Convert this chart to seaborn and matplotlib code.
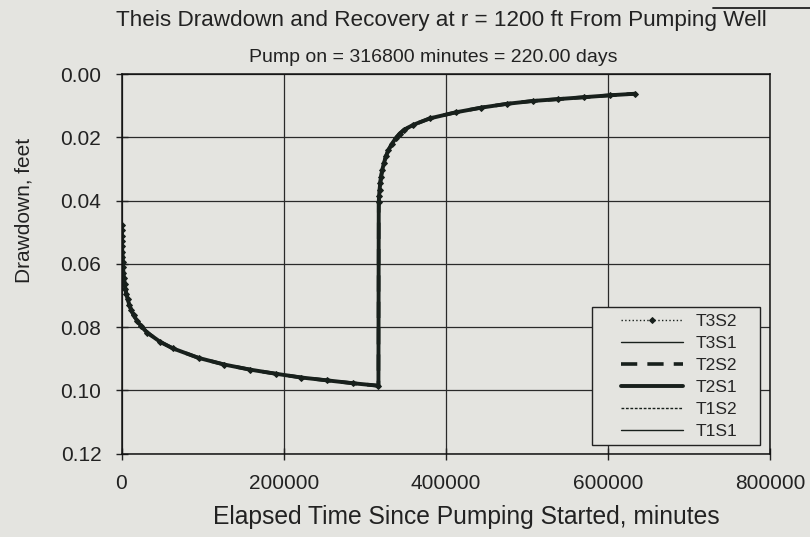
import matplotlib
matplotlib.use("Agg")
import matplotlib.pyplot as plt
import seaborn as sns
import pandas as pd
from matplotlib.lines import Line2D
from matplotlib.patches import Rectangle

# Elapsed time (minutes) and drawdown (feet)
time_min = [300, 380, 480, 600, 760, 960, 1200, 1500, 1900, 2400, 3000, 3800,
            4800, 6000, 7600, 9600, 12000, 15000, 19000, 24000, 31680, 47520,
            63360, 95040, 126720, 158400, 190080, 221760, 253440, 285120, 316800,
            317200, 317600, 318200, 319000, 320000, 321500, 323500, 326000,
            329000, 333000, 338000, 343000, 348480, 360000, 380160, 411840,
            443520, 475200, 506880, 538560, 570240, 601920, 633600]
drawdown_ft = [0.0476, 0.0494, 0.0511, 0.0527, 0.0544, 0.0561, 0.0578, 0.0594,
               0.0611, 0.0628, 0.0644, 0.0662, 0.0679, 0.0695, 0.0712, 0.0729,
               0.0746, 0.0762, 0.0779, 0.0796, 0.0817, 0.0846, 0.0867, 0.0897,
               0.0918, 0.0934, 0.0947, 0.0959, 0.0968, 0.0977, 0.0985,
               0.0405, 0.0385, 0.0365, 0.0345, 0.0325, 0.0303, 0.0282, 0.0260,
               0.0241, 0.0222, 0.0203, 0.0188, 0.0176, 0.0160, 0.0140, 0.0121,
               0.0106, 0.0094, 0.0085, 0.0079, 0.0073, 0.0067, 0.0062]
series_names = ["T3S2", "T3S1", "T2S2", "T2S1", "T1S2", "T1S1"]
x_ticks = [0, 200000, 400000, 600000, 800000]
y_ticks = [0.00, 0.02, 0.04, 0.06, 0.08, 0.10, 0.12]

data = pd.DataFrame({"time": time_min, "drawdown": drawdown_ft})

bg = "#e4e4e0"
ink = "#18201c"

styles = {
    "T3S2": dict(linewidth=1.0, linestyle=":", marker="D", markersize=3),
    "T3S1": dict(linewidth=1.0, linestyle="-"),
    "T2S2": dict(linewidth=2.6, dashes=(4.5, 2.8)),
    "T2S1": dict(linewidth=2.8, linestyle="-"),
    "T1S2": dict(linewidth=1.0, linestyle="--", dashes=(2, 1.2)),
    "T1S1": dict(linewidth=1.0, linestyle="-"),
}

sns.set_style("ticks")
plt.rcParams['font.family'] = ['Liberation Sans', 'DejaVu Sans']

fig, ax = plt.subplots(figsize=(8.1, 5.37), dpi=100)
fig.patch.set_facecolor(bg)
ax.set_facecolor(bg)
fig.subplots_adjust(left=0.150, right=0.951, top=0.862, bottom=0.155)

# draw bottom series first so T3S2 sits on top
for name in reversed(series_names):
    st = dict(styles[name])
    if "dashes" in st:
        d = st.pop("dashes")
        sns.lineplot(data=data, x="time", y="drawdown", ax=ax, color=ink,
                     label=name, sort=False, **st)
        ax.lines[-1].set_dashes(d)
    else:
        sns.lineplot(data=data, x="time", y="drawdown", ax=ax, color=ink,
                     label=name, sort=False, markeredgecolor=ink, **st)

ax.set_xlim(0, 800000)
ax.set_ylim(0.12, 0.0)
ax.set_xticks(x_ticks)
ax.set_xticklabels([str(v) for v in x_ticks], fontsize=15)
ax.set_yticks(y_ticks)
ax.set_yticklabels([f"{v:.2f}" for v in y_ticks], fontsize=15)
ax.grid(True, color="#2a2a2a", linewidth=0.9)
ax.tick_params(direction="inout", length=9, width=1, colors="#222", pad=10)
for sp in ax.spines.values():
    sp.set_color("#111")
    sp.set_linewidth(1.1)

ax.set_xlabel("Elapsed Time Since Pumping Started, minutes", fontsize=17.7,
              color="#222")
ax.xaxis.set_label_coords(0.532, -0.135)
ax.set_ylabel("Drawdown, feet", fontsize=15, color="#222")
ax.yaxis.set_label_coords(-0.135, 0.64)

# legend box (Excel style: wide side padding, tight top/bottom)
ax.add_patch(Rectangle((0.7255, 0.0237), 0.259, 0.363, transform=ax.transAxes,
                       facecolor=bg, edgecolor="#222", linewidth=1.0, zorder=4))
handles, labels = ax.get_legend_handles_labels()
order = [labels.index(n) for n in series_names]
leg = ax.legend([handles[i] for i in order], [labels[i] for i in order],
                loc="center", bbox_to_anchor=(0.859, 0.203), frameon=False,
                fontsize=12.5, handlelength=3.6, handletextpad=0.7,
                labelspacing=0.39, borderpad=0, borderaxespad=0)
leg.set_zorder(5)

fig.text(0.545, 0.962, "Theis Drawdown and Recovery at r = 1200 ft From Pumping Well",
         ha="center", va="center", fontsize=16.2, color="#222")
fig.text(0.535, 0.893, "Pump on = 316800 minutes = 220.00 days",
         ha="center", va="center", fontsize=14, color="#222")
fig.add_artist(Line2D([0.88, 1.0], [0.986, 0.986], transform=fig.transFigure,
                      color="#222", linewidth=1.3))

fig.savefig("out.png", dpi=100, facecolor=bg)
